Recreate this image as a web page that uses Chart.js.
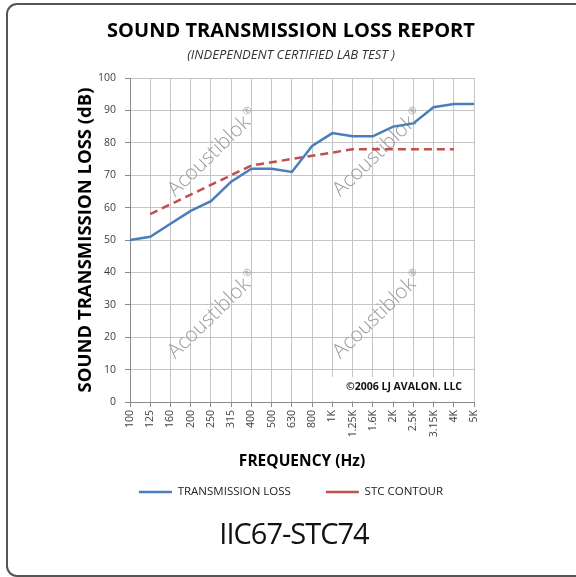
<!DOCTYPE html>
<html><head><meta charset="utf-8">
<script src="https://cdn.jsdelivr.net/npm/chart.js@4/dist/chart.umd.min.js"></script>
<style>
html,body{margin:0;padding:0;background:#fff;}
#wrap{position:relative;width:576px;height:577px;overflow:hidden;background:#fff;}
#frame{position:absolute;left:6px;top:3px;width:600px;height:574px;border:2px solid #555;border-radius:11px;box-sizing:border-box;}
#c{position:absolute;left:0;top:0;}
#code{position:absolute;left:0;width:588px;top:517px;text-align:center;font-family:'Open Sans',sans-serif;font-size:29px;line-height:32px;color:#111;letter-spacing:-1px;}
</style></head>
<body>
<div id="wrap">
<div id="frame"></div>
<canvas id="c" width="576" height="577"></canvas>
<div id="code">IIC67-STC74</div>
</div>
<script>
const categories = ['100','125','160','200','250','315','400','500','630','800','1K','1.25K','1.6K','2K','2.5K','3.15K','4K','5K'];
const transmissionLoss = [50,51,55,59,62,68,72,72,71,79,83,82,82,85,86,91,92,92];
const stcContour = [null,58,61,64,67,70,73,74,75,76,77,78,78,78,78,78,78,null];
const yTickValues = [0,10,20,30,40,50,60,70,80,90,100];
const watermarkText = 'Acoustiblok';
const copyrightText = '\u00A92006 LJ AVALON. LLC';

const FONT = "'Open Sans', sans-serif";

const decorPlugin = {
  id: 'decor',
  beforeDatasetsDraw(chart) {
    const {ctx, chartArea: a} = chart;
    ctx.save();
    const spots = [[0.241,0.231],[0.721,0.231],[0.241,0.731],[0.721,0.731]];
    ctx.fillStyle = '#9c9c9c';
    ctx.textAlign = 'center';
    ctx.textBaseline = 'middle';
    spots.forEach(([fx, fy]) => {
      const x = a.left + fx * (a.right - a.left);
      const y = a.top + fy * (a.bottom - a.top);
      ctx.save();
      ctx.translate(x, y);
      ctx.rotate(-44 * Math.PI / 180);
      ctx.font = "300 20.5px 'Open Sans', sans-serif";
      ctx.fillText(watermarkText, -5, 0);
      const w = ctx.measureText(watermarkText).width;
      ctx.font = "10px 'Open Sans', sans-serif";
      ctx.fillText('\u00AE', w / 2 + 1, -6);
      ctx.restore();
    });
    ctx.fillStyle = '#fff';
    ctx.fillRect(a.right - 143, a.bottom - 25, 140, 24);
    ctx.fillStyle = '#111';
    ctx.font = "bold 10.5px 'Open Sans', sans-serif";
    ctx.textAlign = 'center';
    ctx.fillText(copyrightText, a.right - 70, a.bottom - 15);
    ctx.restore();
  }
};

new Chart(document.getElementById('c'), {
  type: 'line',
  data: {
    labels: categories,
    datasets: [
      {label: 'TRANSMISSION LOSS', data: transmissionLoss, borderColor: '#4a7ebb', backgroundColor: '#4a7ebb', borderWidth: 2.5, pointRadius: 0, tension: 0, yAxisID: 'y'},
      {label: 'STC CONTOUR', data: stcContour, borderColor: '#c0504d', backgroundColor: '#c0504d', borderWidth: 2.5, borderDash: [8, 5], pointRadius: 0, tension: 0, yAxisID: 'y'}
    ]
  },
  options: {
    responsive: false,
    animation: false,
    events: [],
    layout: {padding: {left: 33, right: 27, top: 10, bottom: 69.25}},
    plugins: {
      title: {display: true, text: 'SOUND TRANSMISSION LOSS REPORT', color: '#000', font: {family: FONT, size: 20, weight: 'bold'}, padding: {top: 9, bottom: 0}},
      subtitle: {display: true, text: '(INDEPENDENT CERTIFIED LAB TEST )', color: '#333', font: {family: FONT, size: 13, style: 'italic'}, padding: {top: 4.2, bottom: 15.2}},
      legend: {position: 'bottom', labels: {usePointStyle: true, pointStyle: 'line', pointStyleWidth: 33, padding: 35, color: '#222', font: {family: FONT, size: 11.5}}},
      tooltip: {enabled: false}
    },
    scales: {
      x: {
        grid: {color: '#c4c4c4', lineWidth: 1, tickLength: 5, tickColor: '#8a8a8a'},
        border: {color: '#8a8a8a'},
        ticks: {autoSkip: false, minRotation: 90, maxRotation: 90, padding: 3, color: '#404040', font: {family: FONT, size: 10.5}},
        title: {display: true, text: 'FREQUENCY (Hz)', color: '#000', font: {family: FONT, size: 15.5, weight: 'bold'}, padding: {top: 0, bottom: -20.05}},
        afterFit(s) { s.height = 49.25; }
      },
      y: {
        min: 0, max: 100,
        afterBuildTicks(s) { s.ticks = yTickValues.map(v => ({value: v})); },
        grid: {color: '#c4c4c4', lineWidth: 1, tickLength: 5, tickColor: '#8a8a8a'},
        border: {color: '#8a8a8a'},
        ticks: {padding: 9, color: '#404040', font: {family: FONT, size: 10.5}},
        title: {display: true, text: 'SOUND TRANSMISSION LOSS (dB)', color: '#000', font: {family: FONT, size: 18.5, weight: 'bold'}, padding: {top: 41.9, bottom: 0}},
        afterFit(s) { s.width = 97; }
      },
      yR: {
        position: 'right', display: true,
        grid: {display: false}, border: {display: false}, ticks: {display: false},
        afterFit(s) { s.width = 75; }
      }
    }
  },
  plugins: [decorPlugin]
});
</script>
</body></html>
